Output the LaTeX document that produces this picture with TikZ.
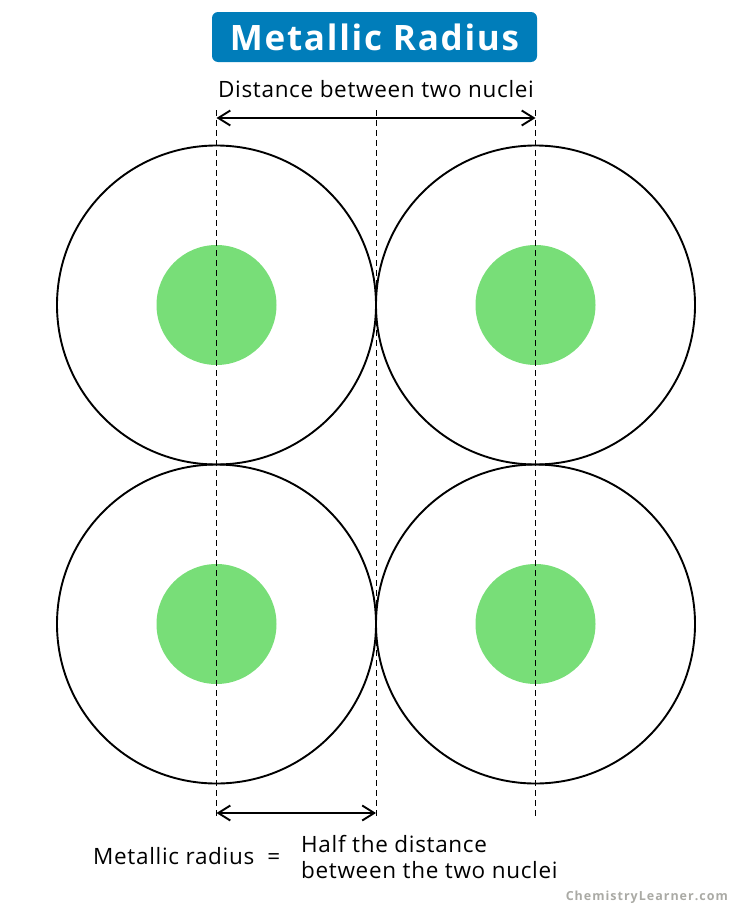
\documentclass[tikz,border=0pt]{standalone}
\usepackage{fontspec}
\setmainfont[LetterSpace=3]{Open Sans}
\newfontfamily\creditfont[LetterSpace=8]{Open Sans}
\newfontfamily\titlefont[LetterSpace=5]{Open Sans}
\usetikzlibrary{arrows.meta}
\definecolor{titleblue}{RGB}{0,125,186}
\definecolor{nucleusgreen}{RGB}{120,222,120}
\definecolor{markgray}{RGB}{170,170,165}

\begin{document}
\begin{tikzpicture}[
                        x=1pt, y=-1pt,
                        node distance=319pt,
                        >={Straight Barb[length=12pt,width=15pt]},
                        atom/.style={circle, draw, line width=1.9pt, minimum size=319pt, inner sep=0pt, outer sep=0pt},
                        nucleus/.style={circle, fill=nucleusgreen, minimum size=120pt, inner sep=0pt},
                        guide/.style={line width=0.8pt, dash pattern=on 6pt off 4pt},
                        dimline/.style={<->, line width=1.9pt},
                        label/.style={font=\fontsize{22.5}{26}\selectfont}
                    ]
                    \useasboundingbox (0,0) rectangle (750,910);
                    % Title
                    \node [fill=titleblue, rounded corners=6pt, text=white, font=\titlefont\bfseries\fontsize{35}{38}\selectfont, minimum width=325pt, minimum height=50pt] (title) at (374.5,37) {Metallic Radius};

                    % Atoms
                    \node [atom] (atomTL) at (216.5,305) {};
                    \node [atom, right of=atomTL] (atomTR) {};
                    \node [atom, below of=atomTL] (atomBL) {};
                    \node [atom, below of=atomTR] (atomBR) {};
                    \node [nucleus] (nucTL) at (atomTL) {};
                    \node [nucleus] (nucTR) at (atomTR) {};
                    \node [nucleus] (nucBL) at (atomBL) {};
                    \node [nucleus] (nucBR) at (atomBR) {};

                    % Guides
                    \coordinate (guidetop) at (0,110);
                    \coordinate (guidebot) at (0,818);
                    \draw [guide] (atomTL |- guidetop) -- (atomBL |- guidebot);
                    \draw [guide] (atomTL.east |- guidetop) -- (atomBL.east |- guidebot);
                    \draw [guide] (atomTR |- guidetop) -- (atomBR |- guidebot);

                    % Connections
                    \coordinate (arrowtop) at (0,118);
                    \coordinate (arrowbot) at (0,813);
                    \draw [dimline] (atomTL |- arrowtop) --node[label, midway, anchor=base, yshift=21pt]{Distance between two nuclei} (atomTR |- arrowtop);
                    \draw [dimline] (atomBL |- arrowbot) -- (atomBL.east |- arrowbot);

                    % Bottom text
                    \node [label, anchor=base west, inner sep=0pt] (radiuslabel) at (93,864) {Metallic radius\ \ =};
                    \node [label, anchor=base west, inner sep=0pt] (halflabel) at (301,852) {Half the distance};
                    \node [label, anchor=base west, inner sep=0pt] (betweenlabel) at (301,878) {between the two nuclei};
                    \node [anchor=base east, inner sep=0pt, text=markgray, font=\creditfont\bfseries\fontsize{12.5}{14}\selectfont] (credit) at (728,900) {ChemistryLearner.com};
                \end{tikzpicture}
\end{document}
